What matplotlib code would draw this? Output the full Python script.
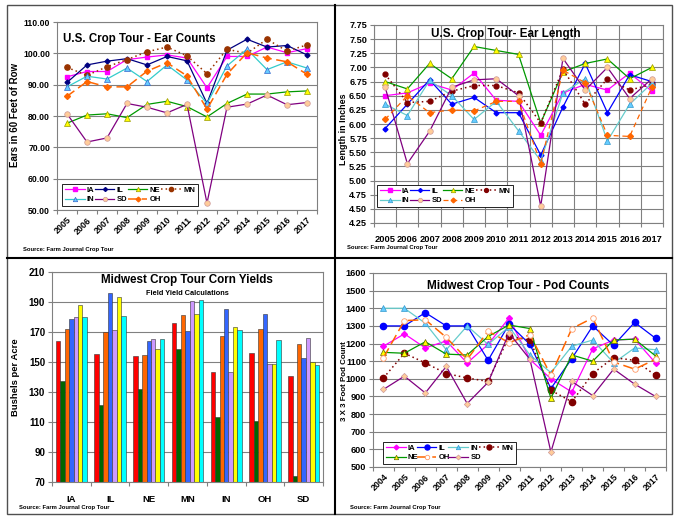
import matplotlib
matplotlib.use("Agg")
import matplotlib.pyplot as plt
import numpy as np
from matplotlib.lines import Line2D
from matplotlib.patches import Rectangle
from matplotlib.ticker import FixedLocator, FixedFormatter, NullFormatter, FormatStrFormatter

plt.rcParams["font.family"] = ["Liberation Sans", "DejaVu Sans"]
plt.rcParams["font.weight"] = "bold"
plt.rcParams["axes.labelweight"] = "bold"

W, H = 679, 525
GRAY = "#808080"

# --- ear counts (ears in 60 ft of row), 2005-2017
ec_years = [str(y) for y in range(2005, 2018)]
ec_ia = [92.5, 94.2, 94.2, 98.0, 98.8, 99.5, 98.5, 89.0, 99.0, 99.0, 102.0, 100.2, 101.5]
ec_il = [90.7, 96.3, 97.5, 98.3, 96.3, 99.0, 97.6, 84.0, 101.0, 104.5, 102.0, 102.5, 99.5]
ec_ne = [77.7, 80.3, 80.7, 79.5, 83.7, 84.7, 83.0, 79.7, 84.0, 87.0, 87.0, 87.7, 88.0]
ec_mn = [95.5, 93.0, 95.7, 98.0, 100.5, 102.0, 99.2, 93.5, 101.3, 100.0, 104.5, 100.7, 102.7]
ec_in = [89.3, 92.7, 91.8, 95.3, 91.0, 96.3, 91.5, 84.0, 96.0, 101.3, 94.8, 97.3, 95.3]
ec_sd = [80.7, 71.7, 73.0, 84.0, 82.8, 81.0, 83.7, 52.2, 82.8, 83.8, 86.7, 83.6, 84.3]
ec_oh = [86.3, 91.0, 89.3, 89.3, 94.3, 97.0, 92.8, 82.2, 93.3, 100.2, 98.5, 97.3, 93.3]

# --- ear length (inches), 2005-2017
el_years = [str(y) for y in range(2005, 2018)]
el_ia = [6.50, 6.55, 6.72, 6.60, 6.90, 6.42, 6.40, 5.80, 6.55, 6.70, 6.60, 6.90, 6.58]
el_il = [5.92, 6.35, 6.78, 6.35, 6.47, 6.20, 6.20, 5.45, 6.30, 7.07, 6.20, 6.87, 6.75]
el_ne = [6.75, 6.62, 7.07, 6.80, 7.37, 7.30, 7.23, 6.02, 6.92, 7.07, 7.15, 6.80, 7.00]
el_mn = [6.88, 6.38, 6.40, 6.58, 6.68, 6.68, 6.55, 6.02, 6.97, 6.35, 6.80, 6.60, 6.70]
el_in = [6.35, 6.15, 6.77, 6.50, 6.08, 6.40, 5.88, 5.35, 6.55, 6.80, 5.70, 6.35, 6.72]
el_sd = [6.65, 5.30, 5.87, 6.65, 6.78, 6.80, 6.50, 4.55, 7.16, 6.60, 7.00, 6.45, 6.80]
el_oh = [6.08, 6.50, 6.20, 6.25, 6.23, 6.40, 6.40, 5.30, 6.95, 6.73, 5.80, 5.78, 6.65]

# --- corn yields (bu/acre) per state, one list per tour year
yld_states = ["IA", "IL", "NE", "MN", "IN", "OH", "SD"]
yld_2011 = [164.2, 155.6, 153.8, 175.8, 143.1, 156.0, 140.7]
yld_2012 = [137.1, 121.6, 131.8, 158.9, 113.1, 110.4, 74.0]
yld_2013 = [171.8, 170.2, 154.9, 181.1, 167.1, 171.8, 161.8]
yld_2014 = [178.9, 196.0, 163.8, 170.7, 185.1, 182.0, 152.4]
yld_2015 = [180.2, 171.6, 165.1, 190.9, 143.1, 148.4, 166.0]
yld_2016 = [188.2, 193.6, 158.9, 182.2, 173.6, 148.9, 149.8]
yld_2017 = [179.8, 180.7, 165.6, 191.6, 171.1, 164.4, 148.2]

# --- soybean pod counts (3x3 ft), 2004-2017
pc_years = [str(y) for y in range(2004, 2018)]
pc_ia = [1185, 1255, 1175, 1215, 1090, 1195, 1345, 1110, 1000, 925, 1170, 1220, 1225, 1090]
pc_il = [1300, 1300, 1375, 1300, 1300, 1105, 1310, 1195, 945, 1115, 1300, 1190, 1320, 1230]
pc_in = [1400, 1400, 1315, 1165, 1300, 1195, 1295, 1135, 1035, 1185, 1220, 1090, 1175, 1165]
pc_mn = [1005, 1145, 1090, 1030, 1005, 985, 1240, 1220, 935, 870, 1030, 1120, 1105, 1020]
pc_ne = [1150, 1145, 1210, 1140, 1135, 1240, 1305, 1285, 890, 1135, 1100, 1220, 1225, 1130]
pc_oh = [1120, 1330, 1335, 1235, 1110, 1270, 1205, 1250, 1020, 1285, 1345, 1095, 1055, 1110]
pc_sd = [940, 1015, 920, 1070, 860, 980, 1260, 1110, 585, 985, 905, 1055, 970, 900]


def fx(x):
    return x / W


def fy(y):
    return 1 - y / H


def px_axes(fig, x0, y0, x1, y1):
    return fig.add_axes([fx(x0), fy(y1), (x1 - x0) / W, (y1 - y0) / H])


def frame(ax):
    for sp in ax.spines.values():
        sp.set_color(GRAY)
        sp.set_linewidth(0.8)
    ax.set_axisbelow(True)
    ax.grid(axis="y", color=GRAY, lw=0.8)
    ax.tick_params(axis="y", direction="out", length=3, color=GRAY, width=0.8, pad=2)


def category_axis(ax, labels, size, rotate, vgrid=False):
    n = len(labels)
    ax.set_xlim(-0.5, n - 0.5)
    ax.xaxis.set_major_locator(FixedLocator(np.arange(n + 1) - 0.5))
    ax.xaxis.set_major_formatter(NullFormatter())
    ax.xaxis.set_minor_locator(FixedLocator(np.arange(n)))
    ax.xaxis.set_minor_formatter(FixedFormatter(labels))
    ax.tick_params(axis="x", which="major", direction="out", length=3, color=GRAY, width=0.8)
    ax.tick_params(axis="x", which="minor", length=0, labelsize=size, pad=4)
    if vgrid:
        ax.grid(axis="x", which="major", color=GRAY, lw=0.8)
    if rotate:
        for lab in ax.get_xticklabels(minor=True):
            lab.set_rotation(45)
            lab.set_ha("right")
            lab.set_va("top")
            lab.set_rotation_mode("anchor")


def draw_lines(ax, series, styles):
    x = np.arange(len(series[0][1]))
    handles = {}
    for name, vals in series:
        st = styles[name]
        (ln,) = ax.plot(x, vals, label=name, **st)
        handles[name] = ln
    return handles


def legend(ax, handles, order, box):
    x0, y0, x1, y1 = box
    ax.legend([handles[k] for k in order], order, ncol=4, loc="lower left",
              bbox_to_anchor=(fx(x0), fy(y1), (x1 - x0) / W, (y1 - y0) / H),
              bbox_transform=ax.figure.transFigure, mode="expand", borderaxespad=0,
              fontsize=5.5, handlelength=2.6, handletextpad=0.3, columnspacing=0.8,
              labelspacing=0.3, borderpad=0.35, fancybox=False, framealpha=1,
              markerscale=0.8, edgecolor="black").get_frame().set_linewidth(0.6)


fig = plt.figure(figsize=(W / 100, H / 100), dpi=100)

# ---------------- panel 1: ear counts
ax1 = px_axes(fig, 57, 22, 317, 210)
frame(ax1)
s1 = {
    "IA": dict(color="#FF00FF", lw=0.9, marker="s", ms=3.5, mfc="#FF00FF", mec="#FF00FF"),
    "IL": dict(color="#000080", lw=0.9, marker="D", ms=2.5, mfc="#000080", mec="#000080"),
    "NE": dict(color="#009900", lw=0.9, marker="^", ms=4, mfc="#FFFF00", mec="#999900", mew=0.5),
    "MN": dict(color="#993300", lw=1.1, ls=(0, (1, 2)), marker="o", ms=3.8, mfc="#993300", mec="#993300"),
    "IN": dict(color="#33CCCC", lw=0.9, marker="^", ms=4, mfc="#66CCFF", mec="#3366CC", mew=0.5),
    "SD": dict(color="#800080", lw=0.9, marker="o", ms=4, mfc="#FFCC99", mec="#CC9999", mew=0.5),
    "OH": dict(color="#FF6600", lw=1.1, ls=(0, (6, 3)), marker="D", ms=3, mfc="#FF6600", mec="#FF6600"),
}
h1 = draw_lines(ax1, [("IA", ec_ia), ("IL", ec_il), ("NE", ec_ne), ("MN", ec_mn),
                      ("IN", ec_in), ("SD", ec_sd), ("OH", ec_oh)], s1)
ax1.set_ylim(50, 110)
ax1.set_yticks(np.arange(50, 111, 10))
ax1.yaxis.set_major_formatter(FormatStrFormatter("%.2f"))
ax1.tick_params(axis="y", labelsize=6.2)
category_axis(ax1, ec_years, 6.4, rotate=True)
legend(ax1, h1, ["IA", "IN", "IL", "SD", "NE", "OH", "MN"], (62, 183, 198, 206))
fig.text(fx(63), fy(41.7), "U.S. Crop Tour - Ear Counts", fontsize=8.3, ha="left", va="baseline")
fig.text(fx(15), fy(115), "Ears in 60 Feet of Row", fontsize=7, rotation=90, ha="center", va="center")
fig.text(fx(23), fy(249), "Source: Farm Journal Crop Tour", fontsize=4.2, ha="left", va="center")

# ---------------- panel 2: ear length
ax2 = px_axes(fig, 374, 25, 663, 223)
frame(ax2)
s2 = {
    "IA": dict(color="#FF00FF", lw=0.9, marker="s", ms=3.5, mfc="#FF00FF", mec="#FF00FF"),
    "IL": dict(color="#0000FF", lw=0.9, marker="D", ms=2.5, mfc="#0000FF", mec="#0000FF"),
    "NE": dict(color="#009900", lw=0.9, marker="^", ms=4, mfc="#FFFF00", mec="#999900", mew=0.5),
    "MN": dict(color="#800000", lw=1.1, ls=(0, (1, 2)), marker="o", ms=3.5, mfc="#800000", mec="#800000"),
    "IN": dict(color="#66CCCC", lw=0.9, marker="^", ms=4, mfc="#66CCFF", mec="#3399CC", mew=0.5),
    "SD": dict(color="#800080", lw=0.9, marker="o", ms=4, mfc="#FFCC99", mec="#CC9999", mew=0.5),
    "OH": dict(color="#FF6600", lw=0.9, ls=(0, (4, 3)), marker="D", ms=3, mfc="#FF6600", mec="#FF6600"),
}
h2 = draw_lines(ax2, [("IA", el_ia), ("IL", el_il), ("NE", el_ne), ("MN", el_mn),
                      ("IN", el_in), ("SD", el_sd), ("OH", el_oh)], s2)
ax2.set_ylim(4.25, 7.75)
ax2.set_yticks(np.arange(4.25, 7.76, 0.25))
ax2.yaxis.set_major_formatter(FormatStrFormatter("%.2f"))
ax2.tick_params(axis="y", labelsize=6.6)
category_axis(ax2, el_years, 6.7, rotate=False, vgrid=True)
ax2.tick_params(axis="x", which="minor", pad=9)
legend(ax2, h2, ["IA", "IN", "IL", "SD", "NE", "OH", "MN"], (377, 186, 513, 207))
fig.text(fx(506), fy(36.7), "U.S. Crop Tour- Ear Length", fontsize=8.4, ha="center", va="baseline")
fig.text(fx(344), fy(129), "Length in Inches", fontsize=6.4, rotation=90, ha="center", va="center")
fig.text(fx(347), fy(248), "Source: Farm Journal Crop Tour", fontsize=4.2, ha="left", va="center")

# ---------------- panel 3: corn yields
ax3 = px_axes(fig, 52, 272, 323, 482)
frame(ax3)
bar_sets = [yld_2011, yld_2012, yld_2013, yld_2014, yld_2015, yld_2016, yld_2017]
bar_colors = ["#FF0000", "#006600", "#FF6600", "#3366FF", "#CC99FF", "#FFFF00", "#00FFFF"]
bw = 0.115
xs = np.arange(len(yld_states))
for j, (vals, col) in enumerate(zip(bar_sets, bar_colors)):
    ax3.bar(xs + (j - 3) * bw, vals, width=bw, color=col, edgecolor="#333333", lw=0.4)
ax3.set_ylim(70, 210)
ax3.set_yticks(np.arange(70, 211, 20))
ax3.tick_params(axis="y", labelsize=7)
category_axis(ax3, yld_states, 6.8, rotate=False)
ax3.tick_params(axis="x", which="minor", pad=9)
fig.text(fx(187), fy(282.7), "Midwest Crop Tour Corn Yields", fontsize=8.4, ha="center", va="baseline")
fig.text(fx(187), fy(294.7), "Field Yield Calculations", fontsize=5.3, ha="center", va="baseline")
fig.text(fx(16), fy(377), "Bushels per Acre", fontsize=6.8, rotation=90, ha="center", va="center")
fig.text(fx(19), fy(507), "Source: Farm Journal Crop Tour", fontsize=4.2, ha="left", va="center")

# ---------------- panel 4: pod counts
ax4 = px_axes(fig, 373, 273, 666, 467)
frame(ax4)
s4 = {
    "IA": dict(color="#FF00FF", lw=0.9, marker="D", ms=3, mfc="#FF00FF", mec="#FF00FF"),
    "IL": dict(color="#0000FF", lw=0.9, marker="o", ms=4.5, mfc="#0000FF", mec="#0000FF"),
    "IN": dict(color="#66CCCC", lw=0.9, marker="^", ms=4, mfc="#66CCFF", mec="#3399CC", mew=0.5),
    "MN": dict(color="#800000", lw=1.1, ls=(0, (1, 2)), marker="o", ms=4.5, mfc="#800000", mec="#800000"),
    "NE": dict(color="#009900", lw=0.9, marker="^", ms=4, mfc="#FFFF00", mec="#666600", mew=0.5),
    "OH": dict(color="#FF6600", lw=1.1, ls=(0, (7, 3)), marker="o", ms=4, mfc="white", mec="#FF9966", mew=0.6),
    "SD": dict(color="#800080", lw=0.9, marker="D", ms=3.2, mfc="#FFCC99", mec="#CC9999", mew=0.5),
}
h4 = draw_lines(ax4, [("IA", pc_ia), ("IL", pc_il), ("IN", pc_in), ("MN", pc_mn),
                      ("NE", pc_ne), ("OH", pc_oh), ("SD", pc_sd)], s4)
ax4.set_ylim(500, 1600)
ax4.set_yticks(np.arange(500, 1601, 100))
ax4.tick_params(axis="y", labelsize=6.6)
category_axis(ax4, pc_years, 6.4, rotate=True)
legend(ax4, h4, ["IA", "NE", "IL", "OH", "IN", "SD", "MN"], (383, 439, 516, 464))
fig.text(fx(518), fy(289.3), "Midwest Crop Tour - Pod Counts", fontsize=8.5, ha="center", va="baseline")
fig.text(fx(344), fy(381), "3 X 3 Foot Pod Count", fontsize=5.7, rotation=90, ha="center", va="center")
fig.text(fx(350), fy(507), "Source: Farm Journal Crop Tour", fontsize=4.2, ha="left", va="center")

# ---------------- frame and dividers
fig.add_artist(Rectangle((fx(7), fy(514)), (672 - 7) / W, (514 - 5) / H, fill=False,
                         edgecolor="#505050", lw=1.0, transform=fig.transFigure))
fig.add_artist(Line2D([fx(335), fx(335)], [fy(5), fy(514)], color="black", lw=1.5,
                      transform=fig.transFigure))
fig.add_artist(Line2D([fx(7), fx(672)], [fy(258), fy(258)], color="black", lw=1.5,
                      transform=fig.transFigure))

fig.savefig("out.png", dpi=100, facecolor="white")
